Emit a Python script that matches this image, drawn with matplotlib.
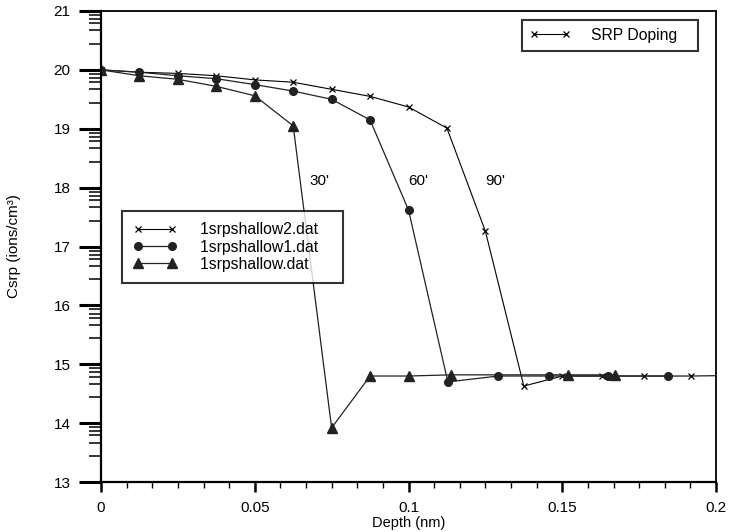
import numpy as np
import matplotlib
matplotlib.use("Agg")
import matplotlib.pyplot as plt
from matplotlib.ticker import FixedLocator, MultipleLocator

plt.rcParams['font.family'] = ['Liberation Sans', 'DejaVu Sans']

# 90' run (SRP doping), x markers
depth_90 = [0, 0.0125, 0.025, 0.0375, 0.05, 0.0625, 0.075, 0.0875, 0.1, 0.1125,
            0.125, 0.1375, 0.150, 0.163, 0.1766, 0.192, 0.208]
csrp_90 = [20.0, 19.96, 19.94, 19.90, 19.83, 19.79, 19.67, 19.55, 19.37, 19.01,
           17.26, 14.63, 14.80, 14.80, 14.80, 14.80, 14.81]

# 60' run, circles
depth_60 = [0, 0.0125, 0.025, 0.0375, 0.05, 0.0625, 0.075, 0.0875, 0.1, 0.1128,
            0.1292, 0.1458, 0.1649, 0.1844]
csrp_60 = [20.0, 19.96, 19.90, 19.85, 19.75, 19.64, 19.50, 19.15, 17.62, 14.70,
           14.80, 14.80, 14.80, 14.80]

# 30' run, triangles
depth_30 = [0, 0.0125, 0.025, 0.0375, 0.05, 0.0625, 0.075, 0.0875, 0.1, 0.1137,
            0.152, 0.167]
csrp_30 = [20.0, 19.90, 19.84, 19.72, 19.56, 19.05, 13.92, 14.80, 14.80, 14.82,
           14.82, 14.82]

labels = ['1srpshallow2.dat', '1srpshallow1.dat', '1srpshallow.dat']
notes = ["30'", "60'", "90'"]
note_x = [0.0709, 0.1031, 0.1282]
note_y = [18.12, 18.12, 18.12]

fig = plt.figure(figsize=(7.29, 5.32), dpi=100)
ax = fig.add_axes([101/729, 50/532, 615/729, 471/532])

l2, = ax.plot(depth_90, csrp_90, color='black', lw=0.8, marker='x', ms=4.5, mew=0.9)
l1, = ax.plot(depth_60, csrp_60, color='#222222', lw=0.9, marker='o', ms=5.5)
l0, = ax.plot(depth_30, csrp_30, color='#222222', lw=0.9, marker='^', ms=7)

for t, xx, yy in zip(notes, note_x, note_y):
    ax.text(xx, yy, t, fontsize=11, ha='center', va='center')

ax.set_xlim(0, 0.2)
ax.set_ylim(13, 21)

ax.xaxis.set_major_locator(FixedLocator([0, 0.05, 0.1, 0.15, 0.2]))
ax.set_xticklabels(['0', '0.05', '0.1', '0.15', '0.2'])
ax.xaxis.set_minor_locator(MultipleLocator(0.05/6))
ax.yaxis.set_major_locator(MultipleLocator(1))
minor_y = []
for n in range(14, 22):
    for f in [0.07, 0.14, 0.21, 0.33, 0.56]:
        minor_y.append(n - f)
ax.yaxis.set_minor_locator(FixedLocator(minor_y))

ax.tick_params(axis='y', which='major', direction='out', length=16, width=2.2, pad=6, labelsize=11)
ax.tick_params(axis='y', which='minor', direction='out', length=8.5, width=1.1)
ax.tick_params(axis='x', which='major', direction='out', length=7.5, width=1.8, pad=6, labelsize=11)
ax.tick_params(axis='x', which='minor', direction='out', length=4, width=1)

for s in ['left', 'bottom']:
    ax.spines[s].set_linewidth(1.6)
for s in ['top', 'right']:
    ax.spines[s].set_linewidth(1.3)

ax.set_xlabel('Depth (nm)', fontsize=10.5)
ax.xaxis.set_label_coords(0.5, -0.072)
ax.set_ylabel('Csrp (ions/cm\u00b3)', fontsize=11)
ax.yaxis.set_label_coords(-0.13, 0.5)

leg1 = ax.legend([l2], ['SRP Doping   '], loc='upper right', bbox_to_anchor=(0.971, 0.981),
                 fontsize=11.3, frameon=True, fancybox=False, edgecolor='black',
                 handlelength=2.6, handletextpad=1.3, borderpad=0.5,
                 borderaxespad=0, numpoints=2)
leg1.get_frame().set_linewidth(1.5)
ax.add_artist(leg1)

leg2 = ax.legend([l2, l1, l0], [s + '   ' for s in labels], loc='upper left',
                 bbox_to_anchor=(0.034, 0.575),
                 fontsize=11.3, frameon=True, fancybox=False, edgecolor='black',
                 handlelength=2.8, handletextpad=1.5, borderpad=0.7,
                 borderaxespad=0, labelspacing=0.15, numpoints=2)
leg2.get_frame().set_linewidth(1.5)

fig.savefig('out.png', dpi=100)
